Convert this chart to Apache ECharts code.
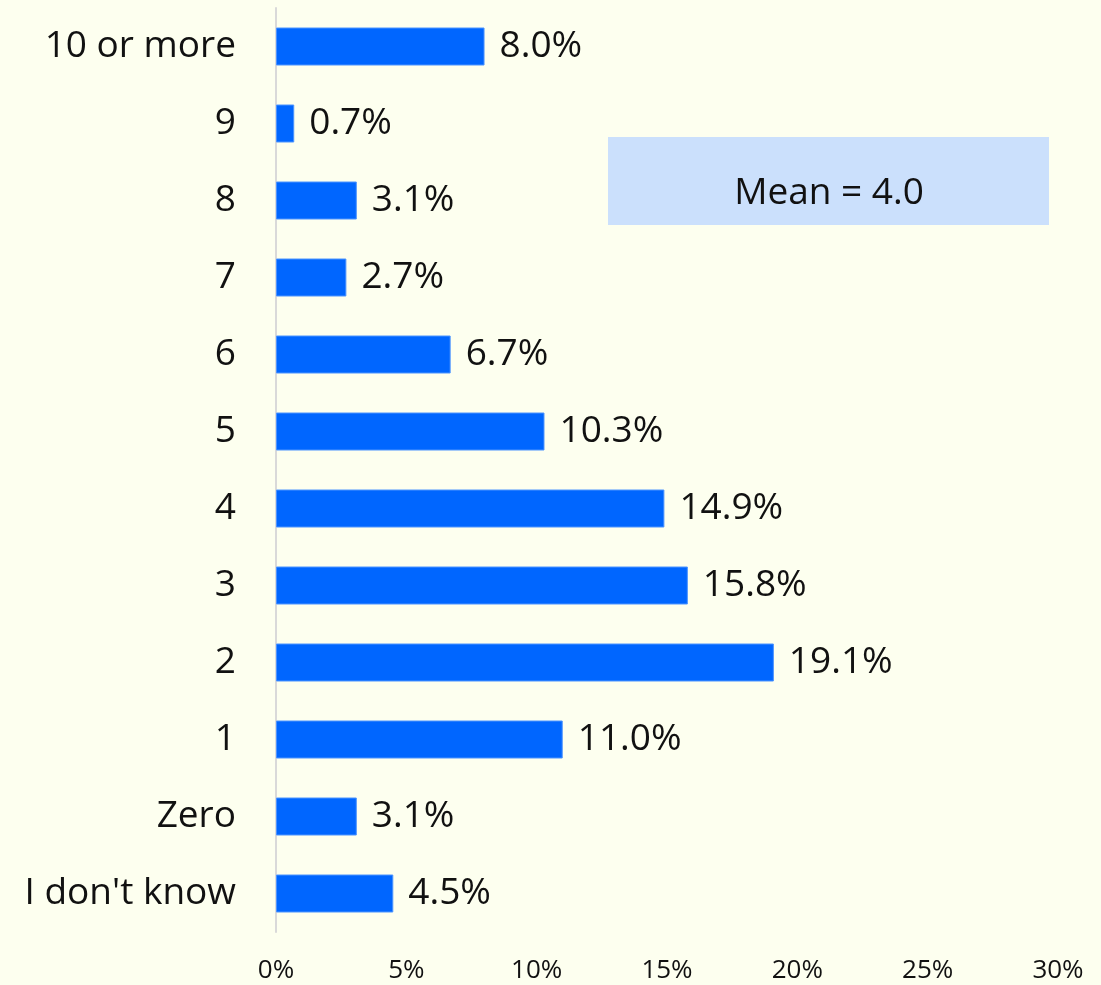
<!DOCTYPE html>
<html>
<head>
<meta charset="utf-8">
<script src="https://cdn.jsdelivr.net/npm/echarts@6/dist/echarts.min.js"></script>
<style>
  html, body { margin: 0; padding: 0; background: #FDFFEF; }
  #chart { width: 1101px; height: 985px; }
</style>
</head>
<body>
<div id="chart"></div>
<script>
// bottom to top, as the axis draws them
const categories = ['I don\'t know', 'Zero', '1', '2', '3', '4', '5', '6', '7', '8', '9', '10 or more'];
const shares = [4.5, 3.1, 11.0, 19.1, 15.8, 14.9, 10.3, 6.7, 2.7, 3.1, 0.7, 8.0];
const meanText = 'Mean = 4.0';

const chart = echarts.init(document.getElementById('chart'));
const font = '"Open Sans", "Noto Sans", sans-serif';

chart.setOption({
  backgroundColor: '#FDFFEF',
  grid: { left: 276, right: 43, top: 8, bottom: 53 },
  xAxis: {
    type: 'value',
    min: 0,
    max: 30,
    interval: 5,
    axisLine: { show: false },
    axisTick: { show: false },
    splitLine: { show: false },
    axisLabel: {
      formatter: '{value}%',
      color: '#111',
      fontFamily: font,
      fontSize: 26,
      margin: 26
    }
  },
  yAxis: {
    type: 'category',
    data: categories,
    axisLine: { lineStyle: { color: '#D9D9D9', width: 2 } },
    axisTick: { show: false },
    axisLabel: {
      color: '#111',
      fontFamily: font,
      fontSize: 37,
      margin: 40
    }
  },
  series: [{
    type: 'bar',
    data: shares,
    barWidth: 38,
    itemStyle: { color: '#0066FF', borderColor: '#4D94FF', borderWidth: 1 },
    label: {
      show: true,
      position: 'right',
      distance: 15,
      formatter: (p) => p.value.toFixed(1) + '%',
      color: '#111',
      fontFamily: font,
      fontSize: 37
    }
  }],
  graphic: [{
    type: 'group',
    left: 608,
    top: 137,
    children: [{
      type: 'rect',
      shape: { x: 0, y: 0, width: 441, height: 88 },
      style: { fill: '#CBE0FC' }
    }, {
      type: 'text',
      x: 221,
      y: 56,
      style: {
        text: meanText,
        fill: '#111',
        font: '37px ' + font,
        textAlign: 'center',
        textVerticalAlign: 'middle'
      }
    }]
  }],
  animation: false
});

window.addEventListener('resize', () => chart.resize());
</script>
</body>
</html>
